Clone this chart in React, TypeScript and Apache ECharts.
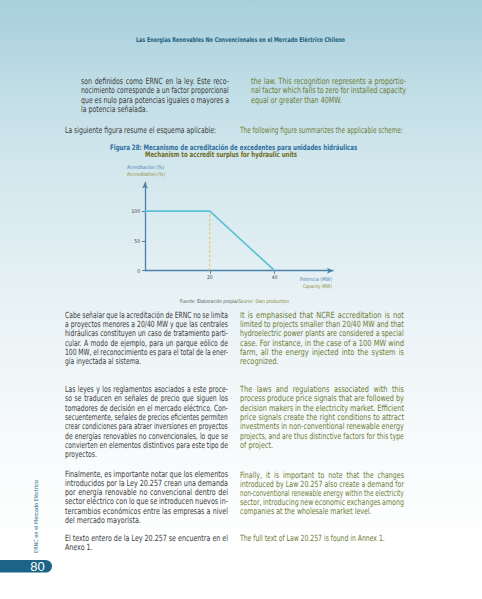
import React, { useEffect, useRef } from "react";
import * as echarts from "echarts";

// ---------- data ----------
const powerMW = [0, 20, 40];
const accreditationPct = [100, 100, 0];
const thresholdMW = [20, 20];
const thresholdPct = [0, 100];
const xTicks = [20, 40];
const yTicks = [0, 50, 100];

// ---------- texts ----------
const headerText = "Las Energias Renovables No Convencionales en el Mercado Eléctrico Chileno";
const topLeft = [
  "son definidos como ERNC en la ley. Este reco-",
  "nocimiento corresponde a un factor proporcional",
  "que es nulo para potencias iguales o mayores a",
  "la potencia señalada.",
];
const topRight = [
  "the law. This recognition represents a proportio-",
  "nal factor which falls to zero for installed capacity",
  "equal or greater than 40MW.",
];
const introLeft = "La siguiente figura resume el esquema aplicable:";
const introRight = "The following figure summarizes the applicable scheme:";
const figTitleEs = "Figura 28: Mecanismo de acreditación de excedentes para unidades hidráulicas";
const figTitleEn = "Mechanism to accredit surplus for hydraulic units";
const yNameEs = "Acreditacion (%)";
const yNameEn = "Accreditation (%)";
const xNameEs = "Potencia (MW)";
const xNameEn = "Capacity (MW)";
const sourceEs = "Fuente: Elaboración propia/";
const sourceEn = "Source: Own production";
const p1Left = [
  "Cabe señalar que la acreditación de ERNC no se limita",
  "a proyectos menores a 20/40 MW y que las centrales",
  "hidráulicas constituyen un caso de tratamiento parti-",
  "cular. A modo de ejemplo, para un parque eólico de",
  "100 MW, el reconocimiento es para el total de la ener-",
  "gía inyectada al sistema.",
];
const p1Right = [
  "It is emphasised that NCRE accreditation is not",
  "limited to projects smaller than 20/40 MW and that",
  "hydroelectric power plants are considered a special",
  "case. For instance, in the case of a 100 MW wind",
  "farm, all the energy injected into the system is",
  "recognized.",
];
const p2Left = [
  "Las leyes y los reglamentos asociados a este proce-",
  "so se traducen en señales de precio que siguen los",
  "tomadores de decisión en el mercado eléctrico. Con-",
  "secuentemente, señales de precios eficientes permiten",
  "crear condiciones para atraer inversiones en proyectos",
  "de energías renovables no convencionales, lo que se",
  "convierten en elementos distintivos para este tipo de",
  "proyectos.",
];
const p2Right = [
  "The laws and regulations associated with this",
  "process produce price signals that are followed by",
  "decision makers in the electricity market. Efficient",
  "price signals create the right conditions to attract",
  "investments in non-conventional renewable energy",
  "projects, and are thus distinctive factors for this type",
  "of project.",
];
const p3Left = [
  "Finalmente, es importante notar que los elementos",
  "introducidos por la Ley 20.257 crean una demanda",
  "por energía renovable no convencional dentro del",
  "sector eléctrico con lo que se introducen nuevos in-",
  "tercambios económicos entre las empresas a nivel",
  "del mercado mayorista.",
];
const p3Right = [
  "Finally, it is important to note that the changes",
  "introduced by Law 20.257 also create a demand for",
  "non-conventional renewable energy within the electricity",
  "sector, introducing new economic exchanges among",
  "companies at the wholesale market level.",
];
const p4Left = ["El texto entero de la Ley 20.257 se encuentra en el", "Anexo 1."];
const p4Right = ["The full text of Law 20.257 is found in Annex 1."];
const sideText = "ERNC en el Mercado Eléctrico";
const pageNumber = "80";

// ---------- styling ----------
const FONT = '"Liberation Sans Narrow", "DejaVu Sans Condensed", "Liberation Sans", Arial, sans-serif';
const LEFT_COLOR = "#404040";
const RIGHT_COLOR = "#6f7d36";
const BLUE = "#2e6f9c";
const OLIVE = "#706c1f";
const AXIS = "#4a80ab";

let ctx: CanvasRenderingContext2D | null = null;
function measure(text: string, size: number, weight = "normal", family = FONT) {
  if (!ctx) ctx = document.createElement("canvas").getContext("2d");
  ctx!.font = `${weight} ${size}px ${family}`;
  return ctx!.measureText(text).width;
}

function txt(text: string, x: number, y: number, scaleX: number, size: number, fill: string, weight = "normal", align = "left") {
  return {
    type: "text",
    x,
    y,
    scaleX,
    silent: true,
    style: { text, fill, fontSize: size, fontFamily: FONT, fontWeight: weight, align, verticalAlign: "middle" },
  };
}

// fit a text between x0 and x1
function fit(text: string, x0: number, x1: number, y: number, size: number, fill: string, weight = "normal") {
  const w = measure(text, size, weight);
  return txt(text, x0, y, (x1 - x0) / w, size, fill, weight);
}

function para(lines: string[], x: number, y0: number, lh: number, width: number, fill: string, size = 8.5) {
  const els: any[] = [];
  const ws = lines.map((l) => measure(l, size));
  const ratios = lines.slice(0, -1).map((_, i) => width / ws[i]);
  let s = ratios.length ? ratios.reduce((a, b) => a + b, 0) / ratios.length : 0.9;
  s = Math.min(1, s);
  lines.forEach((line, i) => {
    const y = y0 + i * lh;
    if (i === lines.length - 1) {
      els.push(txt(line, x, y, s, size, fill));
      return;
    }
    const words = line.split(" ");
    const wws = words.map((w) => measure(w, size) * s);
    const sum = wws.reduce((a, b) => a + b, 0);
    const gap = (width - sum) / Math.max(1, words.length - 1);
    const minGap = measure(" ", size) * s * 0.6;
    if (words.length < 2 || gap < minGap) {
      els.push(txt(line, x, y, width / ws[i], size, fill));
      return;
    }
    let cx = x;
    words.forEach((w, j) => {
      els.push(txt(w, cx, y, s, size, fill));
      cx += wws[j] + gap;
    });
  });
  return els;
}

function buildOption() {
  const graphic: any[] = [];
  // header
  graphic.push(fit(headerText, 136, 345, 39, 6.5, "#1e5e7c", "bold"));
  // top paragraphs
  graphic.push(...para(topLeft, 81, 81, 9.5, 148, LEFT_COLOR));
  graphic.push(...para(topRight, 251, 81, 9.5, 155, RIGHT_COLOR));
  graphic.push(fit(introLeft, 65, 216.5, 130, 8.5, LEFT_COLOR));
  graphic.push(fit(introRight, 240, 403, 130, 8.5, RIGHT_COLOR));
  // figure titles
  graphic.push(fit(figTitleEs, 110, 358, 147.5, 7.5, BLUE, "bold"));
  graphic.push(fit(figTitleEn, 145, 297.5, 155, 7.5, OLIVE, "bold"));
  // axis names
  graphic.push(fit(yNameEs, 127, 164, 166.7, 5, "#4a7fae"));
  graphic.push(fit(yNameEn, 127, 165, 174, 5, "#8d8a3c"));
  graphic.push(fit(xNameEs, 300, 332, 278.7, 5, "#4a7fae"));
  graphic.push(fit(xNameEn, 303, 332, 286.3, 5, "#8d8a3c"));
  // source
  {
    const size = 5;
    const w = measure(sourceEs + sourceEn, size);
    graphic.push({
      type: "text",
      x: 180,
      y: 300.7,
      scaleX: (289 - 180) / w,
      silent: true,
      style: {
        text: `{a|${sourceEs}}{b|${sourceEn}}`,
        fontSize: size,
        fontFamily: FONT,
        verticalAlign: "middle",
        rich: {
          a: { fill: "#555555", fontSize: size, fontFamily: FONT },
          b: { fill: "#7a8040", fontSize: size, fontFamily: FONT },
        },
      },
    });
  }
  // body paragraphs
  const LH = 9.3;
  graphic.push(...para(p1Left, 65, 315, LH, 163, LEFT_COLOR));
  graphic.push(...para(p1Right, 240, 315, LH, 164, RIGHT_COLOR));
  graphic.push(...para(p2Left, 65, 389.3, LH, 163, LEFT_COLOR));
  graphic.push(...para(p2Right, 240, 389.3, LH, 164, RIGHT_COLOR));
  graphic.push(...para(p3Left, 65, 474.3, 9.15, 163, LEFT_COLOR));
  graphic.push(...para(p3Right, 240, 475, 9.15, 164, RIGHT_COLOR));
  graphic.push(...para(p4Left, 65, 538.3, 9.15, 163, LEFT_COLOR));
  graphic.push(fit(p4Right[0], 240, 385, 538.3, 8.5, RIGHT_COLOR));
  // side vertical text
  {
    const size = 5.5;
    const w = measure(sideText, size);
    graphic.push({
      type: "text",
      x: 36,
      y: 516.5,
      rotation: Math.PI / 2,
      scaleX: 73 / w,
      silent: true,
      style: { text: sideText, fill: "#2a6f8a", fontSize: size, fontFamily: FONT, align: "center", verticalAlign: "middle" },
    });
  }
  // page number tab
  graphic.push({
    type: "rect",
    silent: true,
    shape: { x: -10, y: 560, width: 62, height: 12.6, r: 6.3 },
    style: { fill: "#1b6487" },
  });
  graphic.push({
    type: "text",
    x: 37.5,
    y: 566.6,
    silent: true,
    style: {
      text: pageNumber,
      fill: "#ffffff",
      fontSize: 13,
      fontFamily: '"Liberation Sans", Arial, sans-serif',
      align: "center",
      verticalAlign: "middle",
    },
  });

  return {
    animation: false,
    grid: { left: 145, right: 149, top: 182.5, bottom: 328.3 },
    xAxis: {
      type: "value",
      min: 0,
      max: 58,
      interval: 20,
      axisLine: { show: true, symbol: ["none", "arrow"], symbolSize: [4.5, 6], lineStyle: { color: AXIS, width: 1.3 } },
      axisTick: { show: true, length: 3, customValues: xTicks, lineStyle: { color: AXIS, width: 1 } },
      axisLabel: {
        customValues: xTicks,
        fontSize: 5,
        fontFamily: FONT,
        color: "#444444",
        margin: 4,
        formatter: (v: number) => (xTicks.includes(v) ? String(v) : ""),
      },
      splitLine: { show: false },
    },
    yAxis: {
      type: "value",
      min: 0,
      max: 148,
      interval: 50,
      axisLine: { show: true, symbol: ["none", "arrow"], symbolSize: [4.5, 6], lineStyle: { color: AXIS, width: 1.3 } },
      axisTick: { show: true, length: 3, customValues: yTicks, lineStyle: { color: AXIS, width: 1 } },
      axisLabel: {
        customValues: yTicks,
        fontSize: 5,
        fontFamily: FONT,
        color: "#444444",
        margin: 5,
        formatter: (v: number) => (yTicks.includes(v) ? String(v) : ""),
      },
      splitLine: { show: false },
    },
    series: [
      {
        type: "line",
        data: thresholdMW.map((x, i) => [x, thresholdPct[i]]),
        symbol: "none",
        silent: true,
        lineStyle: { color: "#e4bd4c", width: 1, type: [2.5, 2] },
        z: 2,
      },
      {
        type: "line",
        data: powerMW.map((x, i) => [x, accreditationPct[i]]),
        symbol: "none",
        silent: true,
        lineStyle: { color: "#5cc2d3", width: 1.7 },
        z: 3,
      },
    ],
    graphic,
  };
}

export default function App() {
  const ref = useRef<HTMLDivElement>(null);
  useEffect(() => {
    if (!ref.current) return;
    const chart = echarts.init(ref.current, null, { renderer: "svg" });
    chart.setOption(buildOption() as any);
    return () => chart.dispose();
  }, []);
  return (
    <div
      ref={ref}
      style={{
        position: "absolute",
        left: 0,
        top: 0,
        width: 482,
        height: 599,
        background:
          "linear-gradient(to bottom, #a6cfdc 0%, #bcdbe4 12%, #cfe5ec 25%, #e8f2f5 50%, #f6fafb 72%, #ffffff 92%)",
      }}
    />
  );
}
